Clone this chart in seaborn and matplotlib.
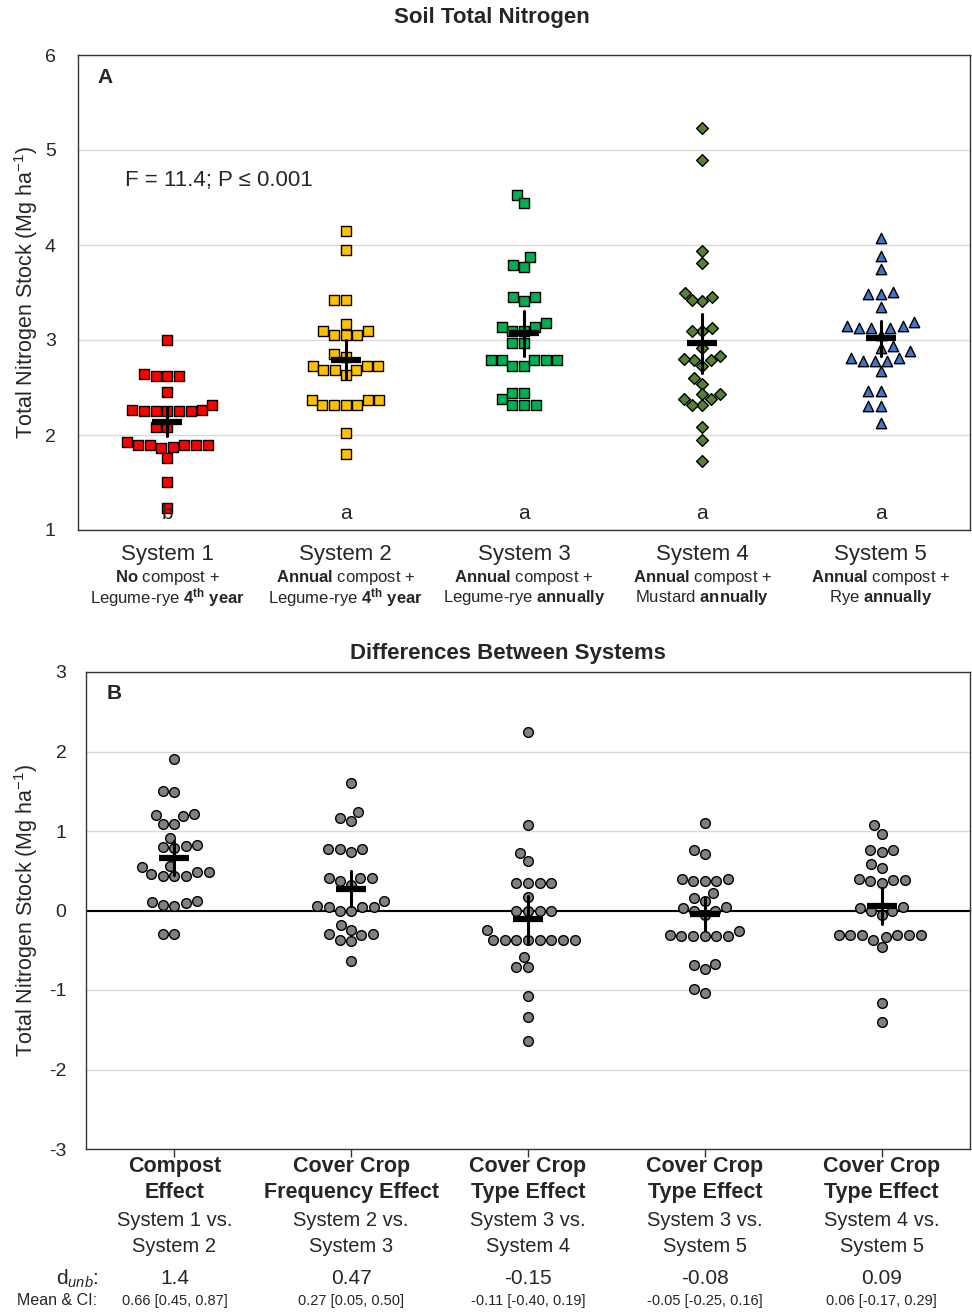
import numpy as np
import pandas as pd
import matplotlib
matplotlib.use("Agg")
import matplotlib.pyplot as plt
import seaborn as sns
from matplotlib.transforms import blended_transform_factory as btf

# ---------------- data ----------------
systems = ["System 1", "System 2", "System 3", "System 4", "System 5"]
sys_line2 = [r"$\mathbf{No}$ compost +", r"$\mathbf{Annual}$ compost +", r"$\mathbf{Annual}$ compost +",
             r"$\mathbf{Annual}$ compost +", r"$\mathbf{Annual}$ compost +"]
sys_line3 = [r"Legume-rye $\mathbf{4^{th}\ year}$", r"Legume-rye $\mathbf{4^{th}\ year}$",
             r"Legume-rye $\mathbf{annually}$", r"Mustard $\mathbf{annually}$", r"Rye $\mathbf{annually}$"]
sig_letters = ["b", "a", "a", "a", "a"]

sys1 = [3.00, 2.62, 2.62, 2.62, 2.64, 2.45, 2.25, 2.25, 2.26, 2.25, 2.26, 2.32, 2.25, 2.25, 2.08, 2.08,
        1.89, 1.89, 1.89, 1.93, 1.86, 1.87, 1.89, 1.90, 1.76, 1.51, 1.23]
sys2 = [4.15, 3.95, 3.42, 3.42, 3.09, 3.17, 3.05, 3.05, 3.05, 3.10, 2.85, 2.68, 2.68, 2.63, 2.73, 2.73,
        2.73, 2.82, 2.68, 2.37, 2.32, 2.32, 2.37, 2.32, 2.37, 2.32, 2.02, 1.80]
sys3 = [4.53, 4.44, 3.87, 3.77, 3.79, 3.45, 3.45, 3.41, 3.09, 3.14, 3.09, 3.18, 3.14, 2.97, 2.97, 2.73,
        2.79, 2.79, 2.79, 2.79, 2.79, 2.73, 2.44, 2.32, 2.32, 2.38, 2.32, 2.44]
sys4 = [5.23, 4.89, 3.94, 3.81, 3.45, 3.41, 3.49, 3.42, 3.09, 3.13, 3.09, 2.92, 2.79, 2.73, 2.79, 2.83,
        2.80, 2.60, 2.54, 2.43, 2.43, 2.38, 2.32, 2.32, 2.38, 2.08, 1.95, 1.73]
sys5 = [4.07, 3.88, 3.75, 3.51, 3.48, 3.48, 3.35, 3.15, 3.13, 3.19, 3.13, 3.13, 3.15, 3.05, 2.94, 2.92,
        2.88, 2.81, 2.78, 2.78, 2.78, 2.81, 2.67, 2.46, 2.46, 2.31, 2.31, 2.13]

comparisons = ["C1", "C2", "C3", "C4", "C5"]
comp_l1 = ["Compost", "Cover Crop", "Cover Crop", "Cover Crop", "Cover Crop"]
comp_l2 = ["Effect", "Frequency Effect", "Type Effect", "Type Effect", "Type Effect"]
comp_l3 = ["System 1 vs.", "System 2 vs.", "System 3 vs.", "System 3 vs.", "System 4 vs."]
comp_l4 = ["System 2", "System 3", "System 4", "System 5", "System 5"]
d_unb = ["1.4", "0.47", "-0.15", "-0.08", "0.09"]
mean_ci = ["0.66 [0.45, 0.87]", "0.27 [0.05, 0.50]", "-0.11 [-0.40, 0.19]",
           "-0.05 [-0.25, 0.16]", "0.06 [-0.17, 0.29]"]

d1 = [1.91, 1.50, 1.49, 1.20, 1.21, 1.19, 1.09, 1.09, 0.82, 0.80, 0.91, 0.81, 0.78, 0.55, 0.56, 0.44,
      0.48, 0.43, 0.44, 0.48, 0.46, 0.07, 0.11, 0.06, 0.12, 0.09, -0.30, -0.30]
d2 = [1.61, 1.24, 1.13, 1.16, 0.77, 0.77, 0.77, 0.73, 0.41, 0.41, 0.37, 0.41, 0.32, 0.12, 0.04, 0.00,
      0.05, 0.05, 0.00, 0.06, -0.18, -0.24, -0.38, -0.30, -0.29, -0.31, -0.37, -0.64]
d3 = [2.25, 1.07, 0.72, 0.62, 0.35, 0.35, 0.35, 0.35, 0.17, -0.01, -0.01, -0.01, -0.01, -0.37, -0.37,
      -0.37, -0.37, -0.25, -0.37, -0.37, -0.37, -0.37, -0.58, -0.71, -0.71, -1.08, -1.34, -1.64]
d4 = [1.10, 0.71, 0.76, 0.37, 0.39, 0.37, 0.40, 0.37, 0.22, 0.12, 0.05, 0.00, 0.16, 0.00, 0.03, -0.06,
      -0.32, -0.32, -0.32, -0.32, -0.31, -0.26, -0.32, -0.67, -0.68, -0.74, -1.04, -0.99]
d5 = [1.07, 0.96, 0.76, 0.76, 0.73, 0.59, 0.53, 0.37, 0.38, 0.38, 0.40, 0.35, 0.05, 0.00, -0.06, 0.00,
      0.03, -0.31, -0.31, -0.31, -0.33, -0.31, -0.31, -0.37, -0.31, -0.46, -1.16, -1.40]

# ---------------- style ----------------
sns.set_theme(style="white")
plt.rcParams["font.family"] = ["Liberation Sans", "DejaVu Sans"]
plt.rcParams["mathtext.fontset"] = "custom"
plt.rcParams["mathtext.rm"] = "Liberation Sans"
plt.rcParams["mathtext.it"] = "Liberation Sans:italic"
plt.rcParams["mathtext.bf"] = "Liberation Sans:bold"
plt.rcParams["axes.unicode_minus"] = False
FAM = ["Liberation Sans", "DejaVu Sans"]

top_vals = [sys1, sys2, sys3, sys4, sys5]
top_colors = ["#FF0000", "#FFC000", "#00B050", "#548235", "#4472C4"]
top_markers = ["s", "s", "s", "D", "^"]
top_sizes = [7, 7, 7, 6, 7.5]
df_top = pd.DataFrame({"grp": np.repeat(systems, [len(v) for v in top_vals]),
                       "val": np.concatenate(top_vals)})

bot_vals = [d1, d2, d3, d4, d5]
df_bot = pd.DataFrame({"grp": np.repeat(comparisons, [len(v) for v in bot_vals]),
                       "val": np.concatenate(bot_vals)})

fig = plt.figure(figsize=(9.72, 13.14), dpi=100)
ax1 = fig.add_axes([78 / 972, 784 / 1314, 892 / 972, 475 / 1314])
ax2 = fig.add_axes([86 / 972, 165 / 1314, 884 / 972, 477 / 1314])

# ---------------- panel A ----------------
for name, vals, col, mk, sz in zip(systems, top_vals, top_colors, top_markers, top_sizes):
    sns.swarmplot(x=[name] * len(vals), y=vals, order=systems, color=col, marker=mk, size=sz,
                  edgecolor="black", linewidth=1, ax=ax1, zorder=3)
sns.pointplot(data=df_top, x="grp", y="val", order=systems, errorbar=("se", 2.05), color="black",
              marker="_", linestyle="none", markersize=22, markeredgewidth=4.5,
              err_kws={"linewidth": 2.2, "zorder": 6}, ax=ax1, zorder=6)

ax1.set_ylim(1, 6)
ax1.set_xlim(-0.5, 4.5)
ax1.set_yticks([1, 2, 3, 4, 5, 6])
ax1.yaxis.grid(True, color="#d9d9d9", lw=1)
ax1.set_axisbelow(True)
ax1.set_xlabel("")
ax1.set_xticklabels([])
ax1.tick_params(axis="x", length=0)
ax1.tick_params(axis="y", length=0, labelsize=14, pad=16)
ax1.set_ylabel(r"Total Nitrogen Stock (Mg ha$^{-1}$)", fontsize=15.5)
ax1.yaxis.set_label_coords(-0.0426, 0.5)
for s in ax1.spines.values():
    s.set_color("#333333")
    s.set_linewidth(1)

tr1 = btf(ax1.transData, ax1.transAxes)
for i in range(5):
    ax1.text(i, 0.034, sig_letters[i], transform=tr1, ha="center", va="center", fontsize=15)
    ax1.text(i, -0.0526, systems[i], transform=tr1, ha="center", va="center", fontsize=16)
    ax1.text(i, -0.101, sys_line2[i], transform=tr1, ha="center", va="center", fontsize=12)
    ax1.text(i, -0.143, sys_line3[i], transform=tr1, ha="center", va="center", fontsize=12)
ax1.text(0.030, 0.952, "A", transform=ax1.transAxes, ha="center", va="center",
         fontsize=15, fontweight="bold")
ax1.text(0.0527, 0.735, "F = 11.4; P ≤ 0.001", transform=ax1.transAxes, ha="left",
         va="center", fontsize=16)
fig.text(492 / 972, 1 - 18 / 1314, "Soil Total Nitrogen", ha="center", va="center",
         fontsize=16, fontweight="bold")

# ---------------- panel B ----------------
sns.swarmplot(data=df_bot, x="grp", y="val", order=comparisons, color="#808080", marker="o",
              size=7, edgecolor="black", linewidth=1, ax=ax2, zorder=3)
sns.pointplot(data=df_bot, x="grp", y="val", order=comparisons, errorbar=("se", 2.05),
              color="black", marker="_", linestyle="none", markersize=22, markeredgewidth=4.5,
              err_kws={"linewidth": 2.2, "zorder": 6}, ax=ax2, zorder=6)
ax2.axhline(0, color="black", lw=1.5, zorder=2)
ax2.set_ylim(-3, 3)
ax2.set_xlim(-0.5, 4.5)
ax2.set_yticks([-3, -2, -1, 0, 1, 2, 3])
ax2.yaxis.grid(True, color="#d9d9d9", lw=1)
ax2.set_axisbelow(True)
ax2.set_xlabel("")
ax2.set_xticklabels([])
ax2.tick_params(axis="x", length=6, width=1, color="#333333", direction="out", bottom=True)
ax2.tick_params(axis="y", length=0, labelsize=14, pad=14)
ax2.set_ylabel(r"Total Nitrogen Stock (Mg ha$^{-1}$)", fontsize=15.5)
ax2.yaxis.set_label_coords(-0.052, 0.5)
for s in ax2.spines.values():
    s.set_color("#333333")
    s.set_linewidth(1)

tr2 = btf(ax2.transData, ax2.transAxes)
for i in range(5):
    ax2.text(i, -0.0377, comp_l1[i], transform=tr2, ha="center", va="center", fontsize=15.5,
             fontweight="bold", family=FAM)
    ax2.text(i, -0.092, comp_l2[i], transform=tr2, ha="center", va="center", fontsize=15.5,
             fontweight="bold", family=FAM)
    ax2.text(i, -0.149, comp_l3[i], transform=tr2, ha="center", va="center", fontsize=14.5,
             family=FAM)
    ax2.text(i, -0.205, comp_l4[i], transform=tr2, ha="center", va="center", fontsize=14.5,
             family=FAM)
    ax2.text(i, -0.272, d_unb[i], transform=tr2, ha="center", va="center", fontsize=15,
             family=FAM)
    ax2.text(i, -0.318, mean_ci[i], transform=tr2, ha="center", va="center", fontsize=10.5,
             family=FAM)
ax2.text(0.0147, -0.272, r"d$_{\mathit{unb}}$:", transform=ax2.transAxes, ha="right", va="center",
         fontsize=15, family=FAM)
ax2.text(0.0124, -0.318, "Mean & CI:", transform=ax2.transAxes, ha="right", va="center",
         fontsize=11.5, family=FAM)
ax2.text(0.0317, 0.954, "B", transform=ax2.transAxes, ha="center", va="center",
         fontsize=15, fontweight="bold")
fig.text(508 / 972, 1 - 653 / 1314, "Differences Between Systems", ha="center", va="center",
         fontsize=16, fontweight="bold")

fig.savefig("out.png", dpi=100)
